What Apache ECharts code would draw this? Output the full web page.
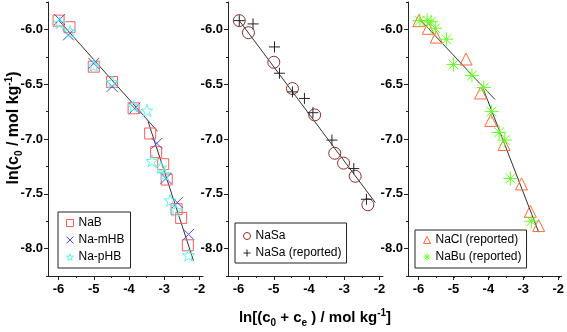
<!DOCTYPE html>
<html>
<head>
<meta charset="utf-8">
<script src="https://cdn.jsdelivr.net/npm/echarts@6/dist/echarts.min.js"></script>
<style>
html,body{margin:0;padding:0;background:#fff;}
#main{width:567px;height:332px;}
</style>
</head>
<body>
<div id="main"></div>
<script>
// panel 1
var naB = [[-6.00,-5.92],[-5.69,-5.98],[-5.00,-6.34],[-4.48,-6.48],[-3.87,-6.72],[-3.40,-6.95],[-3.23,-7.12],[-3.03,-7.23],[-2.93,-7.37],[-2.65,-7.64],[-2.52,-7.72],[-2.33,-7.97]];
var naMHB = [[-5.97,-5.91],[-5.72,-6.05],[-5.00,-6.31],[-4.48,-6.52],[-3.84,-6.72],[-3.21,-7.04],[-2.95,-7.36],[-2.63,-7.58],[-2.31,-7.87]];
var naPHB = [[-5.97,-5.94],[-5.67,-6.02],[-5.00,-6.33],[-4.48,-6.48],[-3.87,-6.70],[-3.49,-6.74],[-3.35,-7.20],[-3.10,-7.26],[-2.99,-7.32],[-2.83,-7.56],[-2.67,-7.65],[-2.31,-8.06]];
var fit1a = [[-6.00,-5.915],[-3.19,-6.93]];
var fit1b = [[-3.46,-6.84],[-2.17,-8.11]];
// panel 2
var naSa = [[-5.98,-5.92],[-5.72,-6.03],[-5.00,-6.30],[-4.47,-6.54],[-3.84,-6.78],[-3.27,-7.13],[-3.02,-7.22],[-2.69,-7.34],[-2.33,-7.60]];
var naSaRep = [[-5.98,-5.92],[-5.59,-5.95],[-4.98,-6.16],[-4.84,-6.40],[-4.47,-6.57],[-4.13,-6.63],[-3.89,-6.76],[-3.35,-7.01],[-2.73,-7.27],[-2.37,-7.55]];
var fit2 = [[-5.98,-5.92],[-2.12,-7.58]];
// panel 3
var naClRep = [[-5.99,-5.92],[-5.72,-5.99],[-5.49,-6.07],[-4.64,-6.27],[-4.22,-6.58],[-3.93,-6.83],[-3.55,-7.05],[-3.05,-7.41],[-2.80,-7.66],[-2.56,-7.79]];
var naBuRep = [[-5.96,-5.92],[-5.75,-5.92],[-5.64,-5.93],[-5.52,-5.99],[-5.20,-6.09],[-5.00,-6.32],[-4.47,-6.42],[-4.13,-6.53],[-3.91,-6.75],[-3.69,-6.94],[-3.53,-7.01],[-3.37,-7.36],[-2.77,-7.75]];
var fit3a = [[-5.94,-5.915],[-3.81,-6.64]];
var fit3b = [[-4.15,-6.54],[-2.56,-7.85]];

var xMajor = [-6,-5,-4,-3,-2];
var xMinor = [-6,-5.5,-5,-4.5,-4,-3.5,-3,-2.5,-2];
var yMajor = [-8,-7.5,-7,-6.5,-6];
var yMinor = [-8.25,-8,-7.75,-7.5,-7.25,-7,-6.75,-6.5,-6.25,-6,-5.75];

var myChart = echarts.init(document.getElementById('main'));

var gridLeft = [48,228,408];
var axisFont = "Arial, 'Liberation Sans', sans-serif";

function starPath(){
    var p = [];
    for (var i=0;i<10;i++){
        var r = i%2 ? 4 : 10;
        var a = -Math.PI/2 + i*Math.PI/5;
        p.push((i ? 'L' : 'M') + (10+r*Math.cos(a)).toFixed(2) + ',' + (10+r*Math.sin(a)).toFixed(2));
    }
    return 'path://' + p.join('') + 'Z';
}
var symX = 'path://M0,0L10,10M10,0L0,10';
var symPlus = 'path://M5,0L5,10M0,5L10,5';
var symAst = 'path://M5,0L5,10M0,5L10,5M1.5,1.5L8.5,8.5M8.5,1.5L1.5,8.5M4.4,4.4L5.6,4.4L5.6,5.6L4.4,5.6Z';

var grids = [], xAxes = [], yAxes = [];
// grids 0-2: the panels, grids 3-5: same boxes, only for the minor ticks
for (var g=0; g<6; g++){
    var major = g < 3;
    grids.push({left: gridLeft[g%3], top: 2, width: 155, height: 274});
    xAxes.push({
        type: 'value', gridIndex: g, min: -6.3, max: -1.9, position: 'bottom',
        splitLine: {show: false},
        axisLine: {show: major, onZero: false, lineStyle: {color: '#222', width: 1}},
        axisTick: {show: true, length: major ? 4 : 2, customValues: major ? xMajor : xMinor, lineStyle: {color: '#222'}},
        axisLabel: {show: major, customValues: xMajor, margin: 7, color: '#000', fontWeight: 'bold', fontSize: 13, fontFamily: axisFont,
            formatter: function(v){ return String(v); }}
    });
    yAxes.push({
        type: 'value', gridIndex: g, min: -8.25, max: -5.75, position: 'left',
        splitLine: {show: false},
        axisLine: {show: major, onZero: false, lineStyle: {color: '#222', width: 1}},
        axisTick: {show: true, length: major ? 4 : 2, customValues: major ? yMajor : yMinor, lineStyle: {color: '#222'}},
        axisLabel: {show: major, customValues: yMajor, margin: 5, color: '#000', fontWeight: 'bold', fontSize: 13, fontFamily: axisFont,
            formatter: function(v){ return v.toFixed(1); }}
    });
}

function pts(name, g, data, symbol, size, color, fill){
    return {
        name: name, type: 'scatter', xAxisIndex: g, yAxisIndex: g, data: data,
        symbol: symbol, symbolSize: size,
        itemStyle: {color: fill || 'rgba(0,0,0,0)', borderColor: color, borderWidth: 1, opacity: 1}
    };
}
function fit(g, data){
    return {
        type: 'line', xAxisIndex: g, yAxisIndex: g, data: data,
        symbol: 'none', silent: true, z: 1,
        lineStyle: {color: '#333', width: 1}
    };
}

var legendBase = {
    orient: 'vertical', itemWidth: 7, itemHeight: 7, itemGap: 1, itemTextGap: 9,
    borderColor: '#222', borderWidth: 1, borderRadius: 0,
    itemStyle: {borderWidth: 1},
    textStyle: {fontSize: 12, color: '#000', fontFamily: axisFont, lineHeight: 16}
};

var option = {
    animation: false,
    backgroundColor: '#fff',
    grid: grids,
    xAxis: xAxes,
    yAxis: yAxes,
    legend: [
        Object.assign({}, legendBase, {left: 58, top: 212, padding: [3,6,3,8], data: ['NaB','Na-mHB','Na-pHB']}),
        Object.assign({}, legendBase, {left: 235, top: 223, padding: [5,5,2,8], data: ['NaSa','NaSa (reported)']}),
        Object.assign({}, legendBase, {left: 415, top: 230, padding: [2,5,3,8], data: ['NaCl (reported)','NaBu (reported)']})
    ],
    graphic: [
        {
            type: 'text', x: 14, y: 128, rotation: Math.PI/2,
            style: {
                text: '{n|ln(c}{sub|0}{n| / mol kg}{sup|-1}{n|)}',
                align: 'center', verticalAlign: 'middle',
                rich: {
                    n: {fontSize: 16, fontWeight: 'bold', fontFamily: axisFont, fill: '#000', lineHeight: 20},
                    sub: {fontSize: 10, fontWeight: 'bold', fontFamily: axisFont, fill: '#000', lineHeight: 10, verticalAlign: 'bottom'},
                    sup: {fontSize: 10, fontWeight: 'bold', fontFamily: axisFont, fill: '#000', lineHeight: 10, verticalAlign: 'top'}
                }
            }
        },
        {
            type: 'text', x: 315, y: 318,
            style: {
                text: '{n|ln[(c}{sub|0}{n| + c}{sub|e}{n| ) / mol kg}{sup|-1}{n|]}',
                align: 'center', verticalAlign: 'middle',
                rich: {
                    n: {fontSize: 15, fontWeight: 'bold', fontFamily: axisFont, fill: '#000', lineHeight: 20},
                    sub: {fontSize: 10, fontWeight: 'bold', fontFamily: axisFont, fill: '#000', lineHeight: 10, verticalAlign: 'bottom'},
                    sup: {fontSize: 10, fontWeight: 'bold', fontFamily: axisFont, fill: '#000', lineHeight: 10, verticalAlign: 'top'}
                }
            }
        }
    ],
    series: [
        fit(0, fit1a), fit(0, fit1b),
        pts('NaB', 0, naB, 'rect', 11, '#ff5c5c'),
        pts('Na-mHB', 0, naMHB, symX, 11, '#4a4ae8'),
        pts('Na-pHB', 0, naPHB, starPath(), 12, '#5ff5e0'),
        fit(1, fit2),
        pts('NaSa', 1, naSa, 'circle', 12, '#8a3030'),
        pts('NaSa (reported)', 1, naSaRep, symPlus, 11, '#222'),
        fit(2, fit3a), fit(2, fit3b),
        pts('NaCl (reported)', 2, naClRep, 'triangle', 12, '#ff6a3d'),
        pts('NaBu (reported)', 2, naBuRep, symAst, 14, '#6cff2e', '#3fd21a')
    ]
};

myChart.setOption(option);
</script>
</body>
</html>
